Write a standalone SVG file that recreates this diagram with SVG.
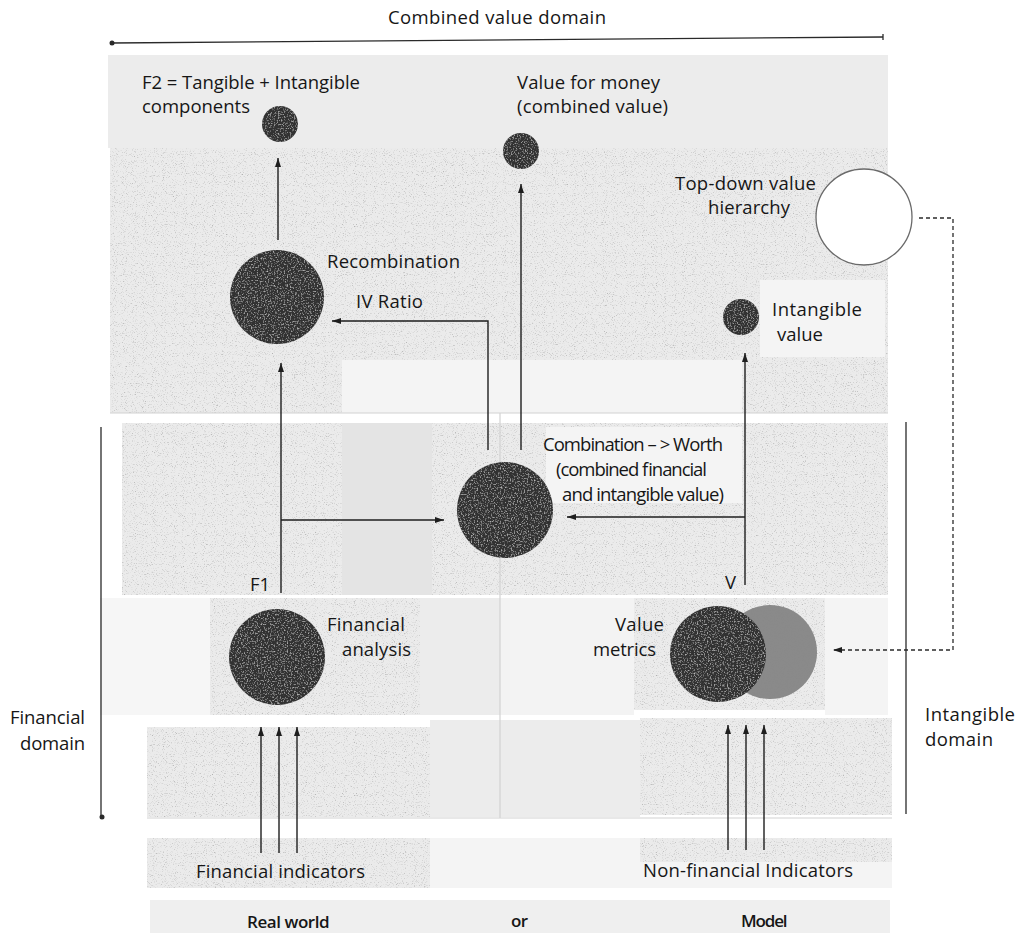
<svg xmlns="http://www.w3.org/2000/svg" width="1019" height="933" viewBox="0 0 1019 933">
  <defs>
    <style>
      .lbl { font-family: "Open Sans", "Liberation Sans", sans-serif; font-size: 18.5px; fill: #161616; }
      .foot { font-family: "Open Sans", "Liberation Sans", sans-serif; font-size: 17px; font-weight: 600; fill: #161616; letter-spacing: -0.6px; }
      .conn { fill: none; stroke: #1e1e1e; stroke-width: 1.4; }
      .dash { fill: none; stroke: #2a2a2a; stroke-width: 1.3; stroke-dasharray: 4 3; }
      .axis { fill: none; stroke: #2a2a2a; stroke-width: 1.3; }
      .faint { fill: none; stroke: #d2d2d2; stroke-width: 1.2; }
      .grainy { fill: #ebebeb; filter: url(#grain); }
      .smooth { fill: #ececec; }
      .pale { fill: #f4f4f4; }
      .dark { fill: #333333; filter: url(#mottle); }
      .mid { fill: #8a8a8a; filter: url(#mottleDark); }
    </style>
    <!-- speckled paper texture for the shaded panels -->
    <filter id="grain" x="0" y="0" width="1" height="1">
      <feTurbulence type="fractalNoise" baseFrequency="0.9" numOctaves="2" seed="7" result="noise"/>
      <feColorMatrix in="noise" type="matrix" values="0 0 0 0 0.4  0 0 0 0 0.4  0 0 0 0 0.4  -2.6 0 0 0 1.15" result="specks"/>
      <feComposite in="specks" in2="SourceGraphic" operator="in" result="clipped"/>
      <feMerge><feMergeNode in="SourceGraphic"/><feMergeNode in="clipped"/></feMerge>
    </filter>
    <!-- mottled fill for the dark nodes -->
    <filter id="mottle" x="0" y="0" width="1" height="1">
      <feTurbulence type="fractalNoise" baseFrequency="0.7" numOctaves="2" seed="3" result="noise"/>
      <feColorMatrix in="noise" type="matrix" values="0 0 0 0 0.55  0 0 0 0 0.55  0 0 0 0 0.55  2.4 0 0 0 -1.25" result="specks"/>
      <feComposite in="specks" in2="SourceGraphic" operator="in" result="clipped"/>
      <feMerge><feMergeNode in="SourceGraphic"/><feMergeNode in="clipped"/></feMerge>
    </filter>
    <filter id="mottleDark" x="0" y="0" width="1" height="1">
      <feTurbulence type="fractalNoise" baseFrequency="0.7" numOctaves="2" seed="11" result="noise"/>
      <feColorMatrix in="noise" type="matrix" values="0 0 0 0 0.25  0 0 0 0 0.25  0 0 0 0 0.25  -3 0 0 0 1.5" result="specks"/>
      <feComposite in="specks" in2="SourceGraphic" operator="in" result="clipped"/>
      <feMerge><feMergeNode in="SourceGraphic"/><feMergeNode in="clipped"/></feMerge>
    </filter>
    <marker id="ah" viewBox="0 0 9 6" refX="9" refY="3" markerWidth="9" markerHeight="6" markerUnits="userSpaceOnUse" orient="auto">
      <path d="M0,0 L9,3 L0,6 z" fill="#1e1e1e"/>
    </marker>
  </defs>

  <rect width="1019" height="933" fill="#ffffff"/>

  <!-- shaded panels -->
  <g id="background">
    <rect class="smooth" x="108" y="55" width="780" height="93"/>
    <rect class="grainy" x="110" y="148" width="778" height="265"/>
    <rect class="pale" x="342" y="360" width="400" height="53"/>
    <rect class="pale" x="760" y="280" width="125" height="77"/>

    <rect class="grainy" x="122" y="423" width="220" height="172"/>
    <rect x="342" y="423" width="90" height="172" fill="#e4e4e4"/>
    <rect class="grainy" x="432" y="423" width="456" height="172"/>
    <rect class="pale" x="546" y="427" width="196" height="76"/>

    <rect x="100" y="598" width="110" height="117" fill="#f6f6f6"/>
    <rect class="grainy" x="210" y="598" width="210" height="117"/>
    <rect class="smooth" x="420" y="598" width="80" height="117"/>
    <rect x="500" y="598" width="134" height="117" fill="#f3f3f3"/>
    <rect class="grainy" x="634" y="598" width="191" height="112"/>
    <rect class="pale" x="825" y="598" width="63" height="117"/>

    <rect class="grainy" x="147" y="727" width="283" height="90"/>
    <rect class="smooth" x="430" y="720" width="210" height="97"/>
    <rect class="grainy" x="640" y="718" width="252" height="97"/>

    <rect class="grainy" x="147" y="838" width="283" height="50"/>
    <rect class="pale" x="430" y="838" width="210" height="50"/>
    <rect class="grainy" x="640" y="838" width="252" height="24"/>
    <rect class="pale" x="640" y="862" width="252" height="26"/>

    <rect x="150" y="900" width="740" height="33" fill="#efefef"/>

    <line class="faint" x1="110" y1="413" x2="888" y2="413"/>
    <line class="faint" x1="147" y1="818" x2="892" y2="818"/>
    <line class="faint" x1="500" y1="413" x2="500" y2="818"/>
  </g>

  <!-- domain axes -->
  <g id="axes">
    <line class="axis" x1="112" y1="43" x2="883" y2="37"/>
    <circle cx="112" cy="43" r="2.5" fill="#2a2a2a"/>
    <line class="axis" x1="883" y1="34" x2="883" y2="40"/>
    <text class="lbl" x="388" y="24" textLength="218">Combined value domain</text>

    <line class="axis" x1="101" y1="427" x2="101" y2="817"/>
    <circle cx="102" cy="817" r="2.5" fill="#2a2a2a"/>
    <text class="lbl" x="10" y="724" textLength="75">Financial</text>
    <text class="lbl" x="20" y="750" textLength="65">domain</text>

    <line class="axis" x1="906" y1="422" x2="906" y2="814"/>
    <text class="lbl" x="925" y="721" textLength="90">Intangible</text>
    <text class="lbl" x="925" y="746" textLength="68">domain</text>
  </g>

  <!-- connectors -->
  <g id="connectors">
    <path class="conn" d="M278,240 V158" marker-end="url(#ah)"/>
    <path class="conn" d="M521,450 V184" marker-end="url(#ah)"/>
    <path class="conn" d="M488,450 V321 H332" marker-end="url(#ah)"/>
    <path class="conn" d="M281,593 V363" marker-end="url(#ah)"/>
    <path class="conn" d="M281,520 H444" marker-end="url(#ah)"/>
    <path class="conn" d="M745,585 V353" marker-end="url(#ah)"/>
    <path class="conn" d="M745,517 H567" marker-end="url(#ah)"/>
    <path class="conn" d="M261,853 V727" marker-end="url(#ah)"/>
    <path class="conn" d="M279,853 V727" marker-end="url(#ah)"/>
    <path class="conn" d="M297,853 V727" marker-end="url(#ah)"/>
    <path class="conn" d="M728,850 V725" marker-end="url(#ah)"/>
    <path class="conn" d="M746,850 V725" marker-end="url(#ah)"/>
    <path class="conn" d="M764,850 V725" marker-end="url(#ah)"/>
    <path class="dash" d="M919,218 H953 V650 H833" marker-end="url(#ah)"/>
    <text class="lbl" x="356" y="308" textLength="67">IV Ratio</text>
    <text class="lbl" x="250" y="591" textLength="20">F1</text>
    <text class="lbl" x="725" y="589">V</text>
  </g>

  <!-- nodes -->
  <g id="node-f2">
    <circle class="dark" cx="280" cy="124" r="18"/>
    <text class="lbl" x="142" y="89" textLength="218">F2 = Tangible + Intangible</text>
    <text class="lbl" x="142" y="113" textLength="108">components</text>
  </g>

  <g id="node-value-for-money">
    <circle class="dark" cx="521" cy="151" r="18"/>
    <text class="lbl" x="517" y="89" textLength="143">Value for money</text>
    <text class="lbl" x="517" y="113" textLength="151">(combined value)</text>
  </g>

  <g id="node-top-down">
    <circle cx="864" cy="217" r="48" fill="#ffffff" stroke="#6a6a6a" stroke-width="1.3"/>
    <text class="lbl" x="675" y="190" textLength="141">Top-down value</text>
    <text class="lbl" x="708" y="214" textLength="82">hierarchy</text>
  </g>

  <g id="node-recombination">
    <circle class="dark" cx="277" cy="297" r="47"/>
    <text class="lbl" x="327" y="268" textLength="133">Recombination</text>
  </g>

  <g id="node-intangible-value">
    <circle class="dark" cx="741" cy="317" r="18"/>
    <text class="lbl" x="772" y="316" textLength="90">Intangible</text>
    <text class="lbl" x="777" y="341" textLength="46">value</text>
  </g>

  <g id="node-combination">
    <circle class="dark" cx="505" cy="510" r="48"/>
    <text class="lbl" x="543" y="451" textLength="180">Combination – &gt; Worth</text>
    <text class="lbl" x="556" y="476" textLength="151">(combined financial</text>
    <text class="lbl" x="562" y="501" textLength="162">and intangible value)</text>
  </g>

  <g id="node-financial-analysis">
    <circle class="dark" cx="277" cy="657" r="48"/>
    <text class="lbl" x="327" y="631" textLength="78">Financial</text>
    <text class="lbl" x="342" y="656" textLength="69">analysis</text>
  </g>

  <g id="node-value-metrics">
    <circle class="mid" cx="770" cy="652" r="47"/>
    <circle class="dark" cx="718" cy="654" r="48"/>
    <text class="lbl" x="615" y="631" textLength="49">Value</text>
    <text class="lbl" x="593" y="656" textLength="63">metrics</text>
  </g>

  <g id="node-financial-indicators">
    <text class="lbl" x="196" y="878" textLength="169">Financial indicators</text>
  </g>

  <g id="node-non-financial-indicators">
    <text class="lbl" x="643" y="877" textLength="210">Non-financial Indicators</text>
  </g>

  <g id="footer">
    <text class="foot" x="247" y="928" textLength="82">Real world</text>
    <text class="foot" x="511" y="927">or</text>
    <text class="foot" x="741" y="927" textLength="46">Model</text>
  </g>
</svg>
